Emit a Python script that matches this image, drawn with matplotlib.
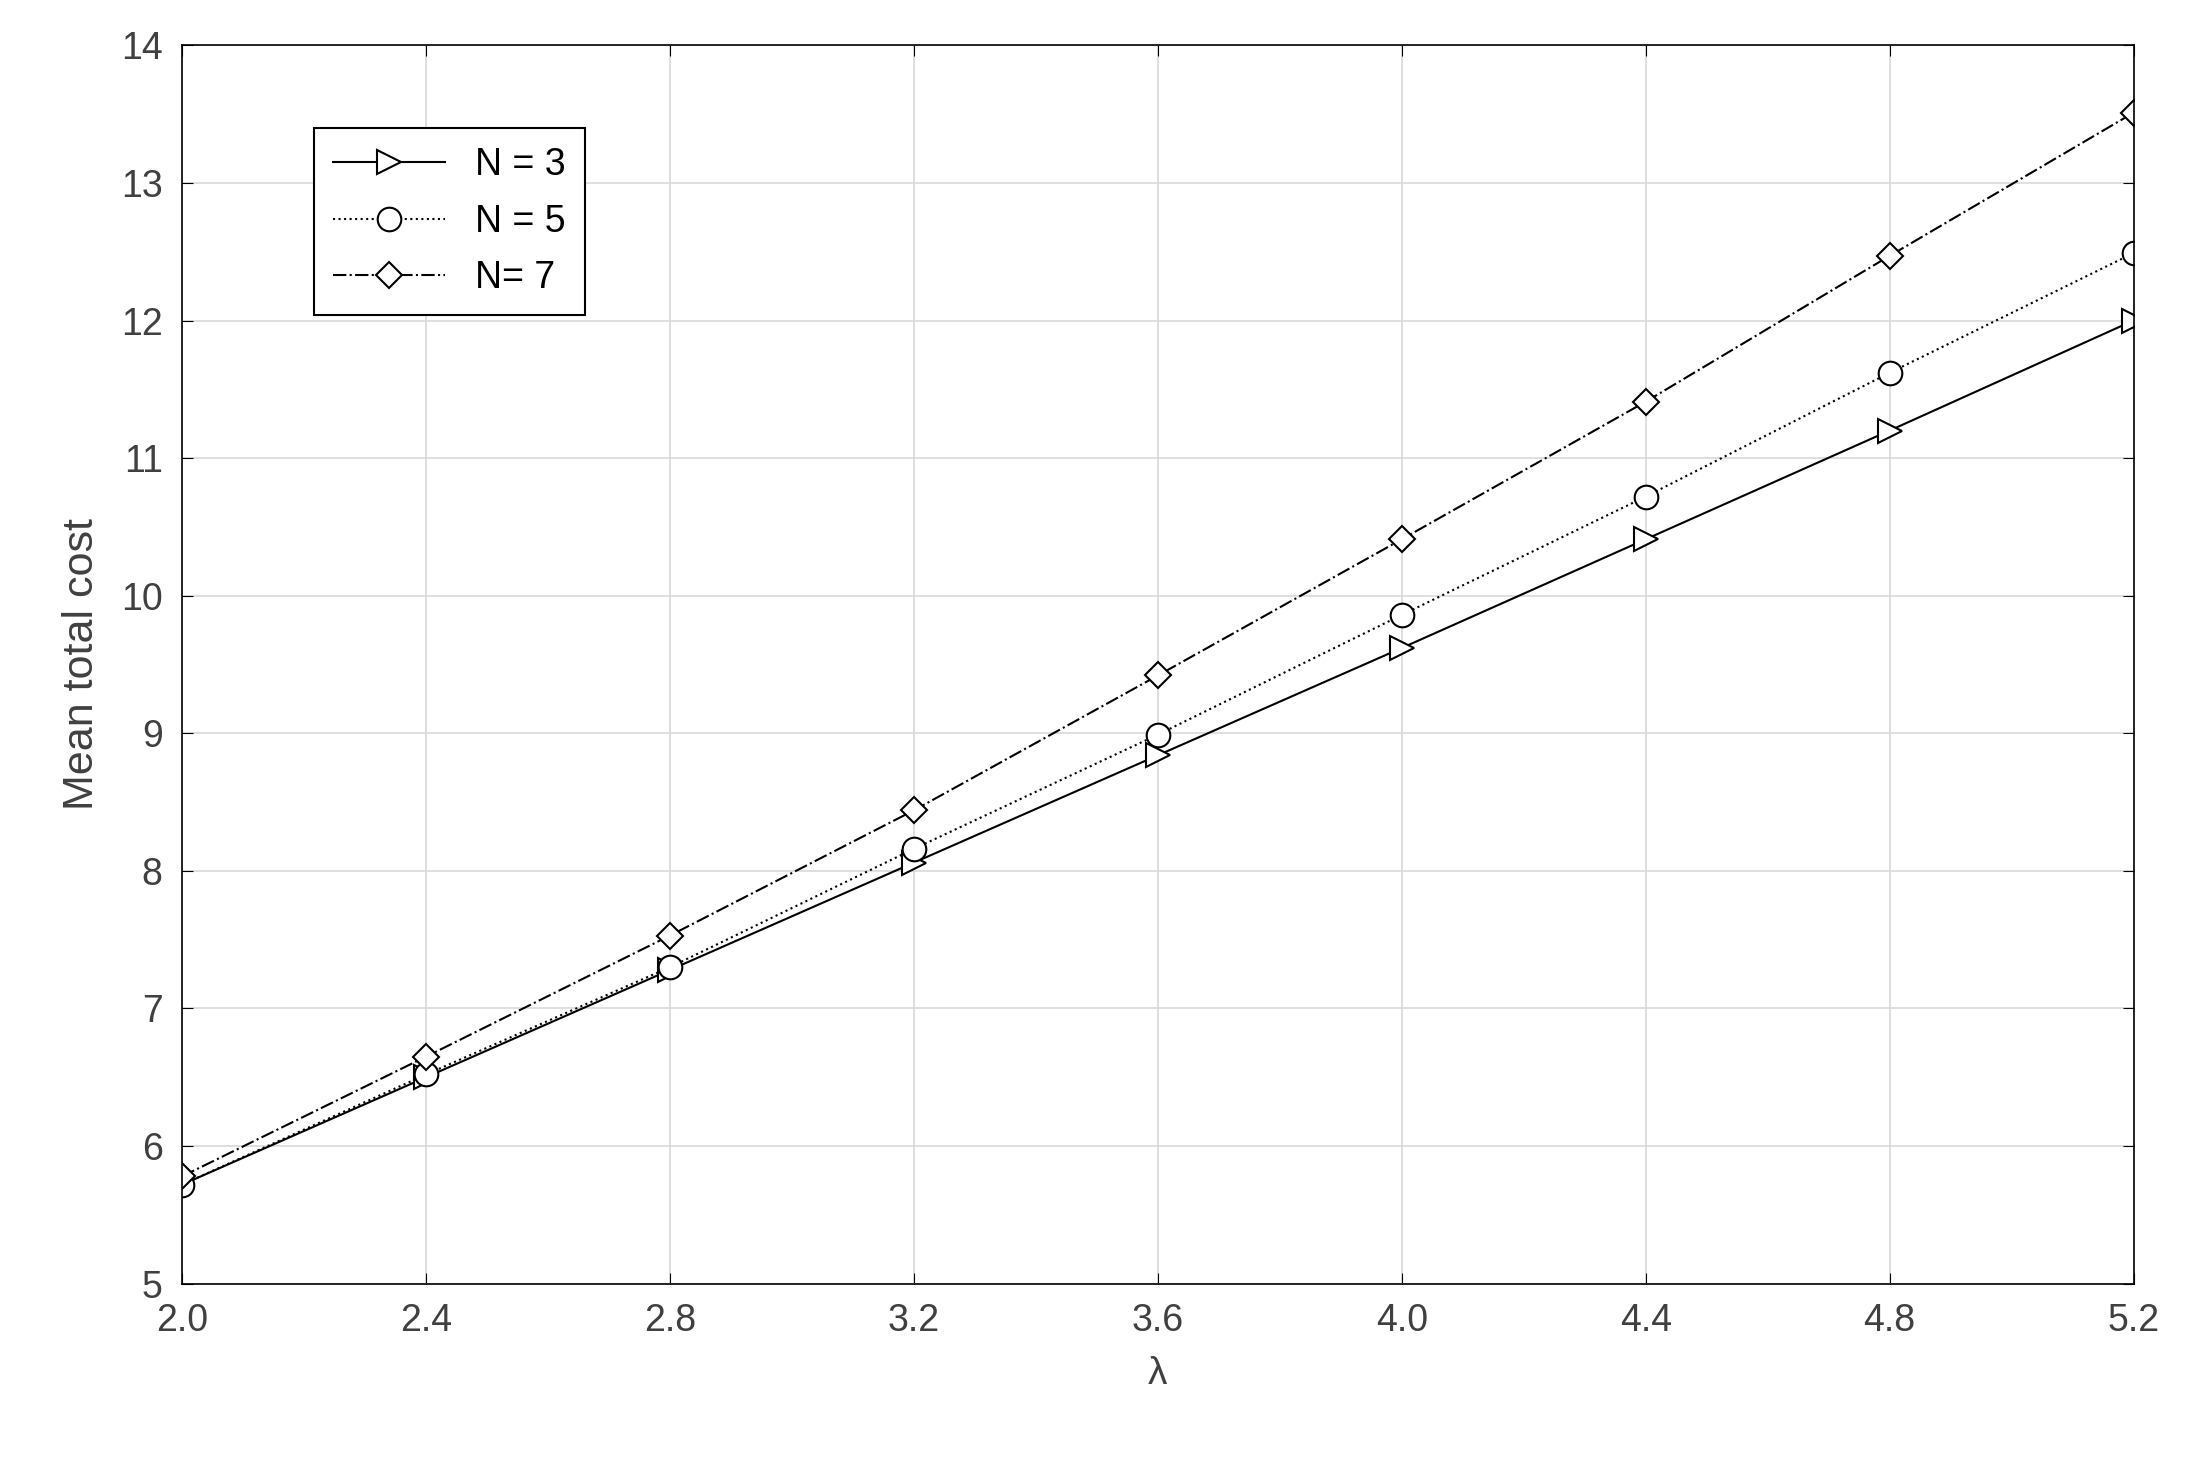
import matplotlib
matplotlib.use("Agg")
import matplotlib.pyplot as plt

plt.rcParams['font.family'] = ['Liberation Sans', 'DejaVu Sans']

lam = [2.0, 2.4, 2.8, 3.2, 3.6, 4.0, 4.4, 4.8, 5.2]
n3 = [5.72, 6.50, 7.28, 8.06, 8.84, 9.62, 10.41, 11.20, 12.00]
n5 = [5.72, 6.52, 7.30, 8.16, 8.99, 9.86, 10.72, 11.62, 12.49]
n7 = [5.78, 6.65, 7.53, 8.44, 9.42, 10.41, 11.41, 12.47, 13.51]
xticks = ["2.0", "2.4", "2.8", "3.2", "3.6", "4.0", "4.4", "4.8", "5.2"]

fig = plt.figure(figsize=(21.95, 14.62), dpi=100)
ax = fig.add_axes([0.083, 0.122, 0.889, 0.847])
kw = dict(color="black", lw=1.5, markerfacecolor="white", markeredgecolor="black",
          markeredgewidth=1.5)
ax.plot(lam, n3, "-", marker=">", markersize=17, label="N = 3", **kw)
ax.plot(lam, n5, ":", marker="o", markersize=17, label="N = 5", **kw)
ax.plot(lam, n7, "-.", marker="D", markersize=13, label="N= 7", **kw)
for l in ax.lines[2:3]:
    pass
ax.set_xlim(2.0, 5.2)
ax.set_ylim(5, 14)
ax.set_xticks(lam)
ax.set_xticklabels(xticks)
ax.set_yticks(range(5, 15))
ax.grid(True, color="#d9d9d9", lw=1.2)
ax.tick_params(labelsize=27, labelcolor="#404040", direction="in", length=8,
               top=True, right=True, pad=14)
for s in ax.spines.values():
    s.set_linewidth(1.2)
ax.set_xlabel("λ", fontsize=28, color="#404040", labelpad=12)
ax.set_ylabel("Mean total cost", fontsize=31, color="#404040", labelpad=14)
leg = ax.legend(loc="upper left", bbox_to_anchor=(0.058, 0.948), fontsize=27,
                fancybox=False, edgecolor="black", framealpha=1, handlelength=3.0,
                borderpad=0.5, labelspacing=0.55)
leg.get_frame().set_linewidth(1.5)
fig.savefig("out.png", dpi=100, facecolor="white")
